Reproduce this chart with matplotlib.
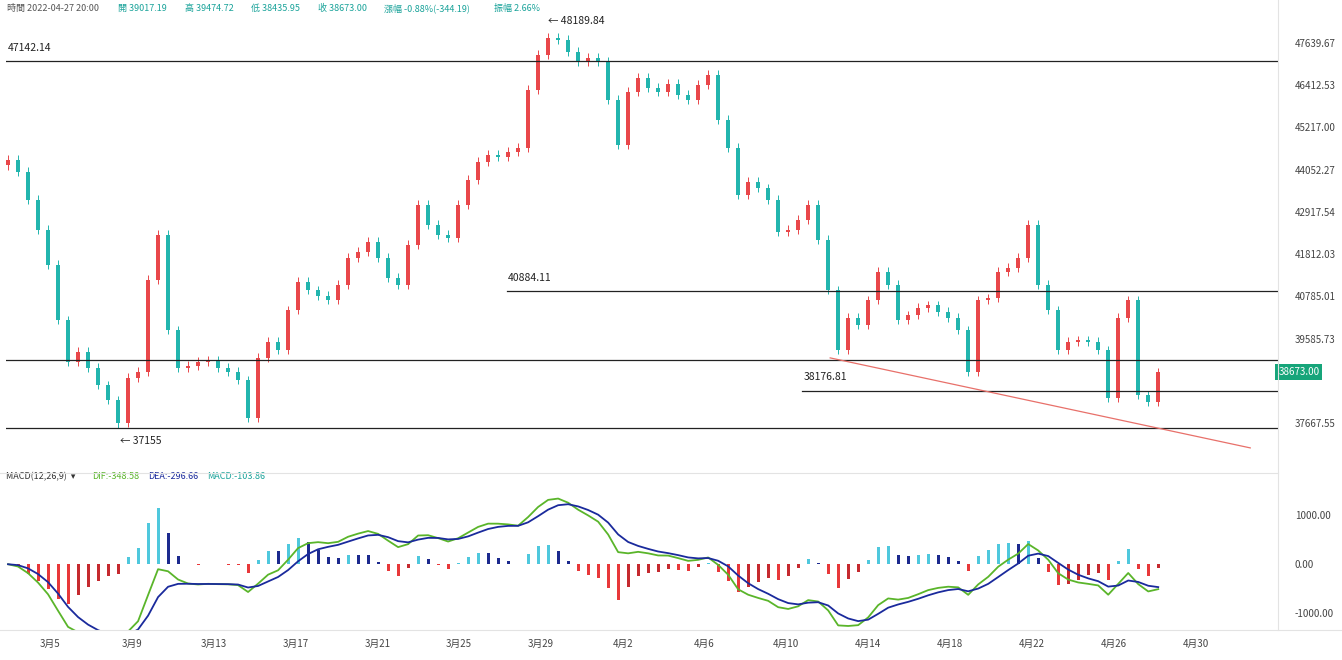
import matplotlib
matplotlib.use("Agg")
import matplotlib.pyplot as plt
import numpy as np
import pandas as pd

plt.rcParams['font.family'] = ['Noto Sans CJK SC', 'DejaVu Sans']

closes = [44449,44123,43361,42545,41593,40097,38955,39227,38792,38329,37921,37300,38520,38683,41185,42409,
          39825,38792,38846,38955,39009,38792,38683,38465,37431,39064,39499,39281,40369,41131,40913,40750,
          40641,41049,41784,41947,42219,41784,41240,41049,42137,43225,42681,42409,42328,43225,43905,44395,
          44585,44531,44667,44776,46353,47305,47768,47713,47387,47115,47224,47115,46081,44857,46299,46680,
          46408,46299,46517,46217,46081,46489,46761,45537,44776,43497,43851,43687,43361,42491,42545,42817,
          43225,42273,40913,39281,40152,39961,40641,41403,41049,40097,40233,40424,40505,40315,40152,39825,
          38683,40641,40695,41403,41512,41784,42681,41049,40369,39281,39499,39553,39499,39281,37975,40152,
          40641,38057,37867,38673]
open0 = 44300
hlines = [47142.14, 40884.11, 39009.0, 38176.81, 37160.0]
hline_start = [-0.2, 49.9, -0.2, 79.4, -0.2]
yticks = [47639.67, 46412.53, 45217.00, 44052.27, 42917.54, 41812.03, 40785.01, 39585.73, 37667.55]
ytick_pos = [47632, 46490, 45347, 44177, 43035, 41893, 40750, 39580, 37296]
date_labels = ['3月5', '3月9', '3月13', '3月17', '3月21', '3月25', '3月29', '4月2', '4月6', '4月10', '4月14', '4月18', '4月22', '4月26', '4月30']
date_days = [5, 9, 13, 17, 21, 25, 29, 33, 37, 41, 45, 49, 53, 57, 61]

c = np.array(closes, float)
o = np.concatenate([[open0], c[:-1]])
n = len(c)
idx = np.arange(n)

fig = plt.figure(figsize=(13.42, 6.6), dpi=100)
ax = fig.add_axes([0.0045, 0.288, 0.948, 0.697])
mx = fig.add_axes([0.0045, 0.045, 0.948, 0.22], sharex=ax)

UP, DN = '#e9474a', '#22b5ae'
for i in range(n):
    col = UP if c[i] >= o[i] else DN
    hi = max(o[i], c[i]) + 120
    lo = min(o[i], c[i]) - 120
    ax.vlines(i, lo, hi, color=col, lw=0.7)
    ax.bar(i, max(abs(c[i]-o[i]), 25), bottom=min(o[i], c[i]), width=0.4, color=col)
ax.vlines(11, 37155, 37300, color=DN, lw=0.7)

for h, s in zip(hlines, hline_start):
    ax.plot([s, 127], [h, h], color='#222222', lw=0.9)
ax.plot([82.2, 124.2], [39064, 36616], color='#e8706a', lw=0.9)

ax.text(0.0, 47142 + 280, '47142.14', fontsize=7.5, color='#222')
ax.text(50.0, 40884 + 280, '40884.11', fontsize=7.5, color='#222')
ax.text(79.5, 38176 + 280, '38176.81', fontsize=7.5, color='#222')
ax.text(11.2, 37155 - 420, '← 37155', fontsize=7.5, color='#222')
ax.text(54.0, 48189.84 - 40, '← 48189.84', fontsize=7.5, color='#222')

ax.set_ylim(36017, 48529)
ax.set_xlim(-0.2, 127)
ax.yaxis.tick_right()
ax.set_yticks(ytick_pos)
ax.set_yticklabels([f'{v:.2f}' for v in yticks], fontsize=7, color='#444')
ax.tick_params(axis='y', length=0, pad=12)
ax.tick_params(axis='x', bottom=False, labelbottom=False)
for sp in ax.spines.values():
    sp.set_visible(False)
ax.text(1.0, 38673, '38673.00', transform=ax.get_yaxis_transform(), fontsize=7, color='white',
        va='center', ha='left', bbox=dict(boxstyle='square,pad=0.3', fc='#16a57a', ec='none'))

# header
hdr = [('時間 2022-04-27 20:00', '#555'), ('開 39017.19', '#1aa39a'), ('高 39474.72', '#1aa39a'),
       ('低 38435.95', '#1aa39a'), ('收 38673.00', '#1aa39a'), ('漲幅 -0.88%(-344.19)', '#1aa39a'),
       ('振幅 2.66%', '#1aa39a')]
xs = [0.005, 0.088, 0.138, 0.187, 0.237, 0.286, 0.368]
for (t, col), xp in zip(hdr, xs):
    fig.text(xp, 0.987, t, fontsize=6.5, color=col, va='center')

# MACD
s = pd.Series(c)
dif = (s.ewm(span=6, adjust=False).mean() - s.ewm(span=13, adjust=False).mean()).values
dea = pd.Series(dif).ewm(span=4, adjust=False).mean().values
hist = 2 * (dif - dea)
for i in range(n):
    prev = hist[i-1] if i else 0
    if hist[i] >= 0:
        col = '#4fc8dd' if hist[i] >= prev else '#1c2a8e'
    else:
        col = '#e8383a' if hist[i] <= prev else '#c52a2f'
    mx.bar(i, hist[i], width=0.3, color=col)
mx.plot(idx, dif, color='#5ab52a', lw=1.3)
mx.plot(idx, dea, color='#1a2a9c', lw=1.3)
mx.set_ylim(-1346, 1612)
mx.yaxis.tick_right()
mx.set_yticks([1000, 0, -1000])
mx.set_yticklabels(['1000.00', '0.00', '-1000.00'], fontsize=7, color='#444')
mx.tick_params(axis='y', length=0, pad=12)
pos = [((d - 5) * 20.45 + 42) / 10 for d in date_days]
mx.set_xticks(pos)
mx.set_xticklabels(date_labels, fontsize=7, color='#444')
mx.tick_params(axis='x', length=0, pad=6)
for sp in mx.spines.values():
    sp.set_visible(False)
mx.text(0.0, 1.03, 'MACD(12,26,9)  ▾', transform=mx.transAxes, fontsize=6.5, color='#333', va='bottom')
mx.text(0.068, 1.03, 'DIF:-348.58', transform=mx.transAxes, fontsize=6.5, color='#5ab52a', va='bottom')
mx.text(0.112, 1.03, 'DEA:-296.66', transform=mx.transAxes, fontsize=6.5, color='#1a2a9c', va='bottom')
mx.text(0.158, 1.03, 'MACD:-103.86', transform=mx.transAxes, fontsize=6.5, color='#1aa39a', va='bottom')

fig.add_artist(plt.Line2D([0.952, 0.952], [0.045, 1.0], color='#e3e3e3', lw=0.8))
fig.add_artist(plt.Line2D([0.0, 0.952], [0.283, 0.283], color='#e3e3e3', lw=0.8))
fig.add_artist(plt.Line2D([0.0, 1.0], [0.045, 0.045], color='#e3e3e3', lw=0.8))
fig.savefig('out.png', dpi=100)
